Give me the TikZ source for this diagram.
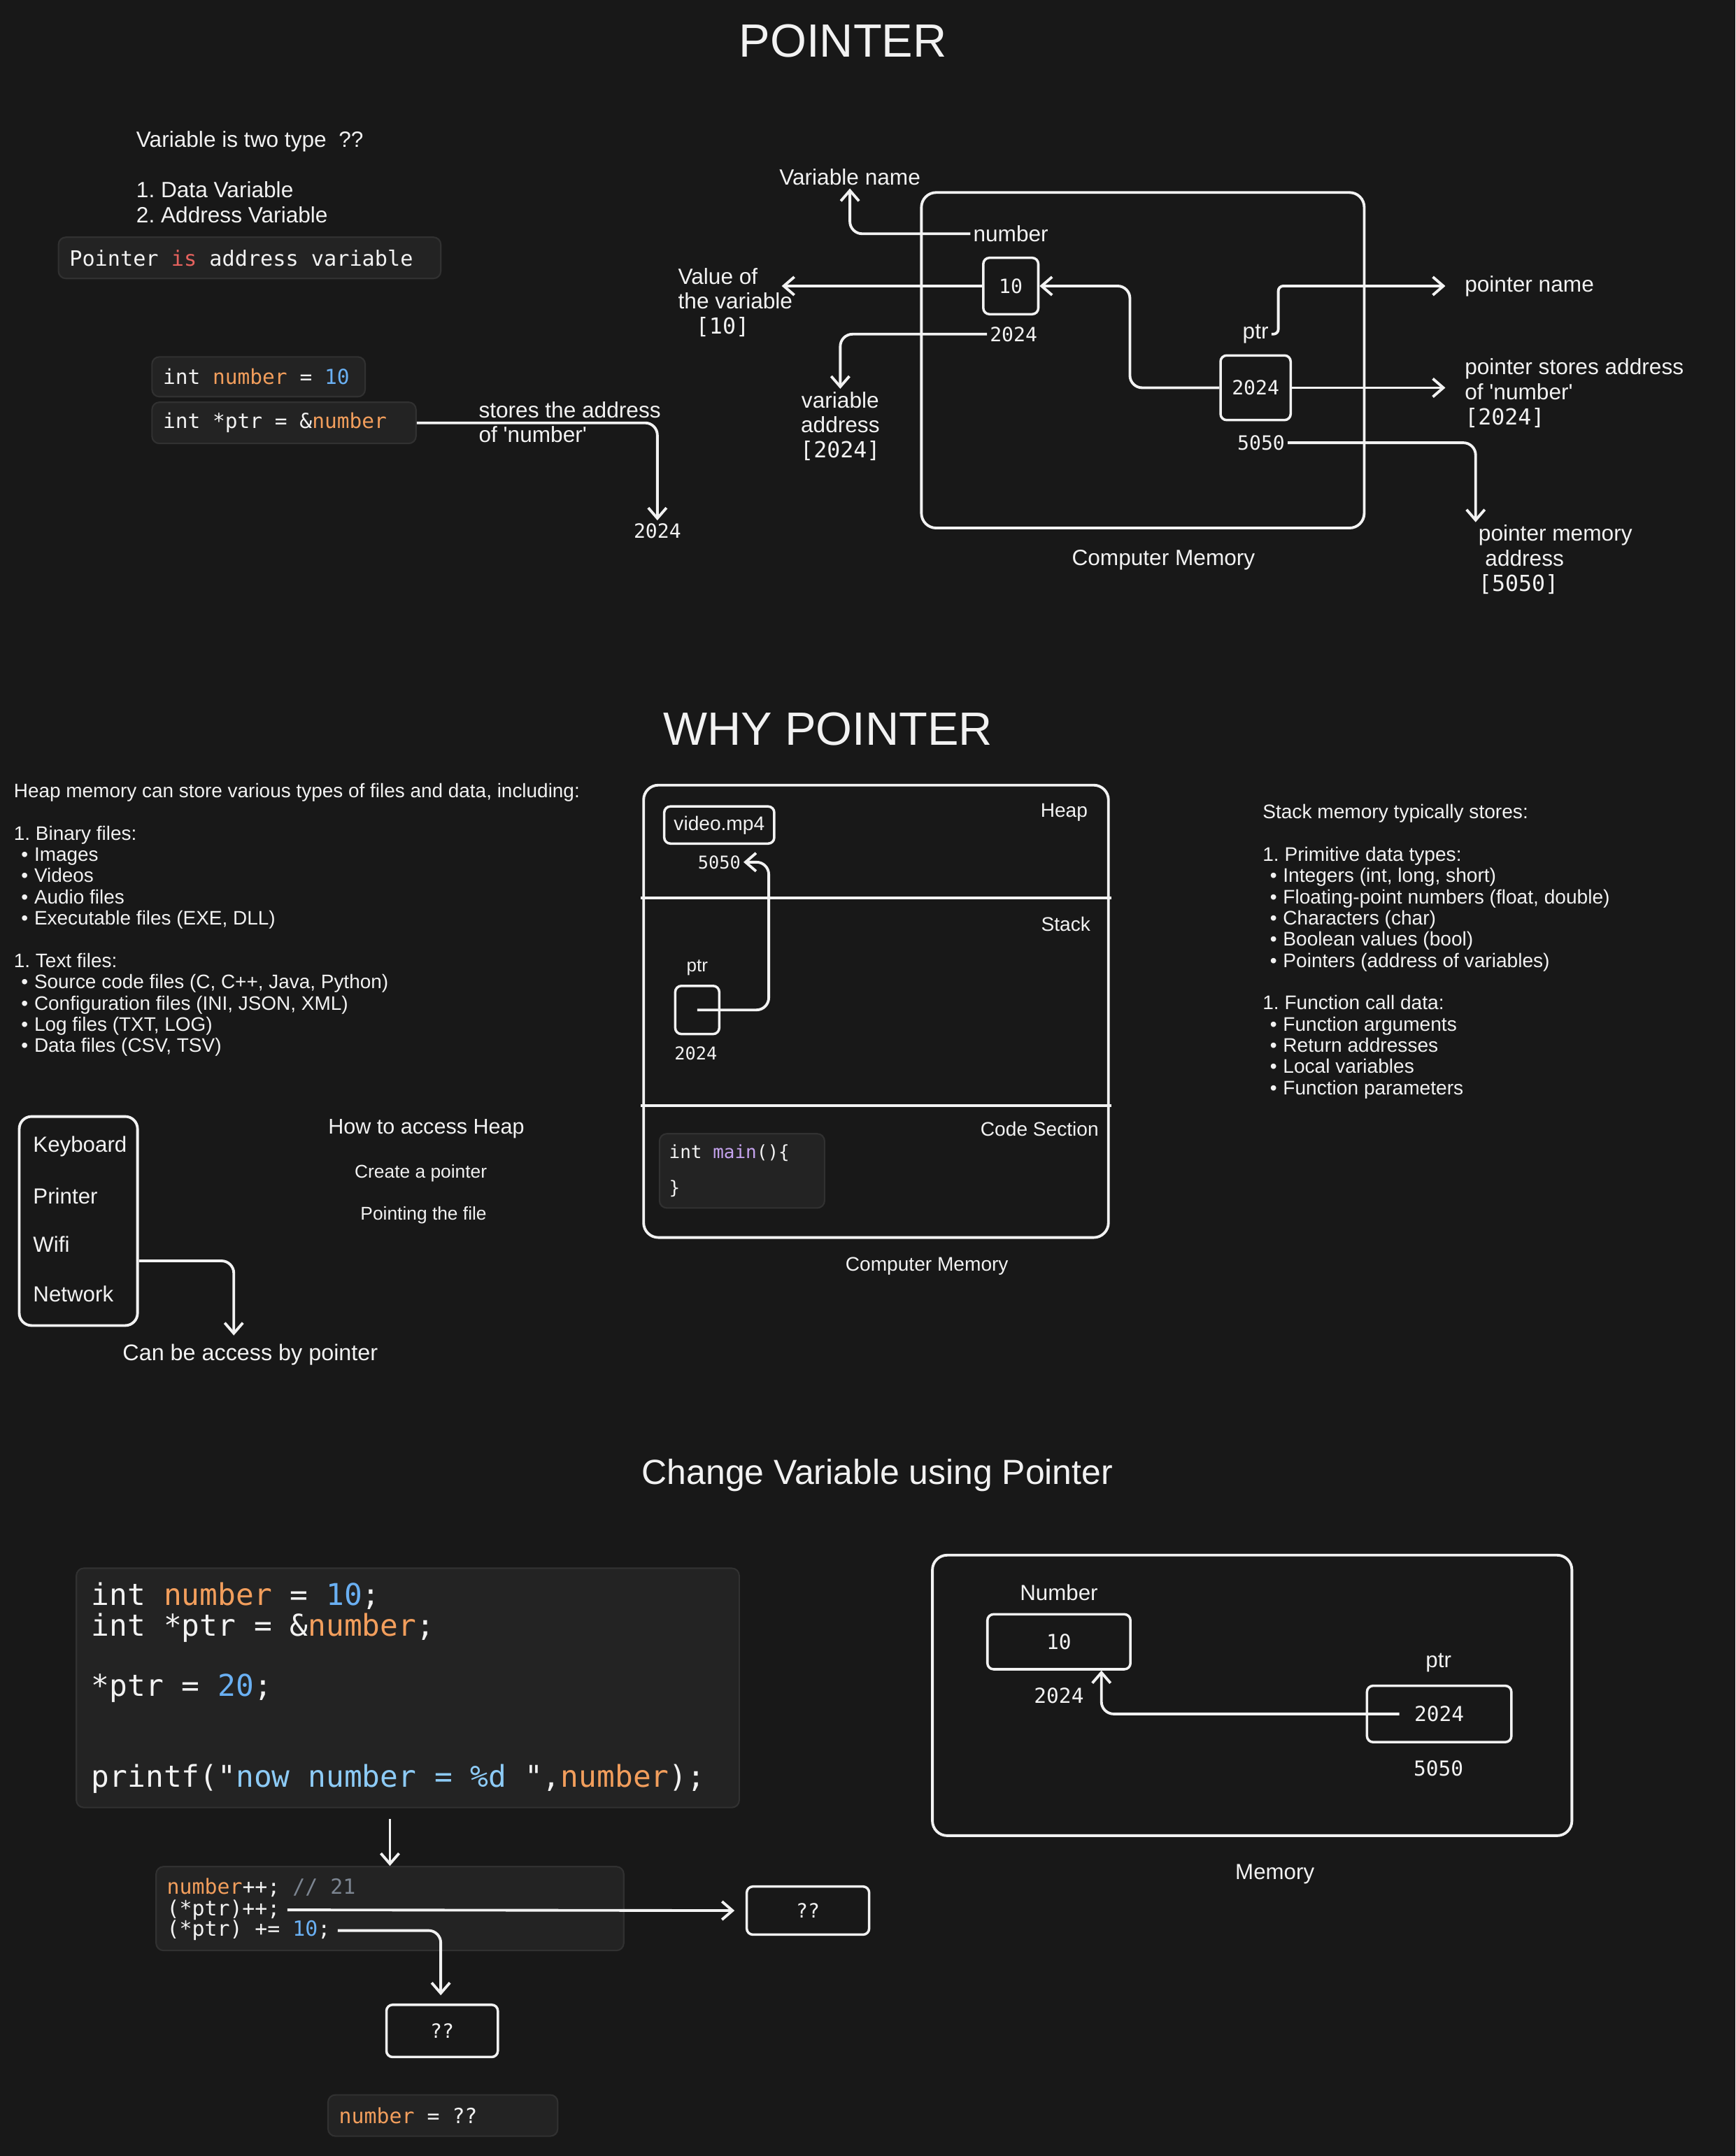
\documentclass[tikz,border=0pt]{standalone}
\usepackage{fontspec}
\setmainfont{Liberation Sans}
\setmonofont{DejaVu Sans Mono}
\usepackage{xcolor}
\usepackage{tikz}
\usetikzlibrary{arrows.meta,calc}

\definecolor{bg}{HTML}{181818}
\definecolor{ink}{HTML}{F2F2F2}
\definecolor{codebg}{HTML}{232323}
\definecolor{codeedge}{HTML}{313131}
\definecolor{hlvar}{HTML}{F29E5C}
\definecolor{hlnum}{HTML}{6AB0F3}
\definecolor{hlkey}{HTML}{E5625E}
\definecolor{hlfun}{HTML}{C5A3EE}
\definecolor{hlcom}{HTML}{7C8591}
\definecolor{hlstr}{HTML}{8DCBF6}

\newlength{\pxu}
\setlength{\pxu}{0.19667mm}
\newcommand{\fsz}[2]{\fontsize{#1}{#2}\selectfont}
\newcommand{\monosp}{\fontdimen2\font=0.602em\fontdimen3\font=0pt\fontdimen4\font=0pt}
\newcommand{\mfont}[2]{\ttfamily\fsz{#1}{#2}\monosp}
\newcommand{\hv}[1]{\textcolor{hlvar}{#1}}
\newcommand{\hn}[1]{\textcolor{hlnum}{#1}}
\newcommand{\tq}{\textquotesingle}
\newcommand{\blt}{\hspace*{3pt}\textbullet\hspace{2.5pt}}

\begin{document}
\begin{tikzpicture}[x=0.19667mm, y=-0.19667mm,
  lbl/.style={text=ink, font=\fsz{9}{10.2}, inner sep=1pt},
  mono/.style={text=ink, font=\mfont{8}{10}, inner sep=1pt},
  heading/.style={text=ink, font=\fsz{19}{22}, inner sep=0pt},
  sz/.style 2 args={minimum width=#1*\pxu, minimum height=#2*\pxu},
  cell/.style={draw=ink, line width=1pt, rounded corners=2.5pt, text=ink, font=\mfont{8}{10}, inner sep=0pt},
  membox/.style={draw=ink, line width=1.1pt, rounded corners=6pt, inner sep=0pt},
  divider/.style={draw=ink, line width=1.1pt},
  codebox/.style={fill=codebg, draw=codeedge, line width=0.6pt, rounded corners=3pt, text=ink, align=flush left, anchor=north west, inner ysep=0pt},
  conn/.style={draw=ink, line width=1.1pt, rounded corners=5pt, -{Straight Barb[length=1.5mm, width=2.6mm]}}]
  \fill[bg] (0,0) rectangle (1262,1568);

  \node[heading] (title) at (613,30) {POINTER};
  \node[lbl, anchor=west] (twotype) at (97,103) {Variable is two type\ \ ??};
  \node[lbl, anchor=west, align=left] (types) at (97,147) {1.\ Data Variable\\2.\ Address Variable};
  \node[codebox, text width=51.53mm, inner xsep=1.57mm, minimum height=5.9mm, font=\mfont{8.6}{10}] (ptrcode) at (42,172) {Pointer \textcolor{hlkey}{is} address variable};
  \node[codebox, text width=27.34mm, inner xsep=1.57mm, minimum height=5.7mm, font=\mfont{8.4}{10}] (intcode) at (110,259) {int \hv{number} = \hn{10}};
  \node[codebox, text width=34.61mm, inner xsep=1.57mm, minimum height=5.9mm, font=\mfont{8.4}{10}] (ptrinit) at (110,292) {int *ptr = \&\hv{number}};
  \node[lbl, anchor=west, align=left] (storesaddr) at (346,307) {stores the address\\of \tq number\tq};
  \node[mono] (res2024) at (478,386) {2024};
  \draw[conn] (ptrinit.east) -| (res2024.north);

  \node[membox, sz={322}{244}] (mem) at (831,262) {};
  \node[lbl] (memlbl) at (846,407) {Computer Memory};
  \node[lbl] (varname) at (618,129) {Variable name};
  \node[lbl] (numname) at (735,170) {number};
  \node[cell, sz={40}{41}] (val10) at (735,208) {10};
  \node[lbl, anchor=west, align=left] (valueof) at (491,220) {Value of\\the variable\\\hspace*{0.8em}\texttt{[10]}};
  \node[mono] (addr10) at (737,243) {2024};
  \node[lbl, align=center] (varaddr) at (611,310) {variable\\address\\\texttt{[2024]}};
  \node[lbl] (ptrlbl) at (913,243) {ptr};
  \node[cell, sz={51}{47}] (ptrcell) at (913,282) {2024};
  \node[mono] (ptraddr) at (917,322) {5050};
  \node[lbl, anchor=west] (ptrname) at (1063,208) {pointer name};
  \node[lbl, anchor=west, align=left] (ptrstores) at (1063,286) {pointer stores address\\of \tq number\tq\\\texttt{[2024]}};
  \node[lbl, anchor=west, align=left] (ptrmem) at (1073,407) {pointer memory\\\hspace*{0.3em}address\\\texttt{[5050]}};
  \draw[conn] (numname.west) -| (varname.south);
  \draw[conn] (val10.west) -- ($(val10.west -| valueof.east)+(-10,0)$);
  \draw[conn] (addr10.west) -| (varaddr.north);
  \draw[conn] (ptrcell.west) -- ++(-65,0) |- (val10.east);
  \draw[conn, rounded corners=2pt] (ptrlbl.east) -- ++(5,0) |- ($(ptrname.west)+(-12,0)$);
  \draw[conn] (ptrcell.east) -- ($(ptrcell.east -| ptrstores.west)+(-12,0)$);
  \draw[conn] (ptraddr.east) -| (ptrmem.north west);

  \node[heading] (whytitle) at (602,530) {WHY POINTER};
  \node[lbl, anchor=west, align=left, font=\fsz{7.95}{8.64}] (heaplist) at (8,669) {Heap memory can store various types of files and data, including:\\[8.64pt]
    1.\ Binary files:\\\blt Images\\\blt Videos\\\blt Audio files\\\blt Executable files (EXE, DLL)\\[8.64pt]
    1.\ Text files:\\\blt Source code files (C, C++, Java, Python)\\\blt Configuration files (INI, JSON, XML)\\\blt Log files (TXT, LOG)\\\blt Data files (CSV, TSV)};
  \node[membox, sz={338}{329}] (mem2) at (637,735.5) {};
  \draw[divider] (466,653) -- (808,653);
  \draw[divider] (466,804) -- (808,804);
  \node[lbl, anchor=east, font=\fsz{8}{10}] (heaplbl) at (793,591) {Heap};
  \node[lbl, anchor=east, font=\fsz{8}{10}] (stacklbl) at (795,672) {Stack};
  \node[lbl, anchor=east, font=\fsz{8}{10}] (codelbl) at (801,821) {Code Section};
  \node[cell, sz={80}{27}, font=\fsz{8}{10}] (video) at (523,600) {video.mp4};
  \node[mono, font=\mfont{7.2}{9}] (h5050) at (523,627) {5050};
  \node[lbl, font=\fsz{7.4}{9}] (sptrlbl) at (507,704) {ptr};
  \node[cell, sz={32}{35}] (sptr) at (507,734.5) {};
  \node[mono, font=\mfont{7.2}{9}] (s2024) at (506,766) {2024};
  \draw[conn] (sptr.center) -- ++(52,0) |- (h5050.east);
  \node[codebox, text width=20.85mm, inner xsep=1.38mm, minimum height=10.62mm, font=\mfont{7.4}{14.5}] (mainfn) at (479,824) {int \textcolor{hlfun}{main}()\{\\\}};
  \node[lbl, font=\fsz{8}{10}] (mem2lbl) at (674,921) {Computer Memory};
  \node[lbl, anchor=west, align=left, font=\fsz{8}{8.64}] (stacklist) at (916,692) {Stack memory typically stores:\\[8.64pt]
    1.\ Primitive data types:\\\blt Integers (int, long, short)\\\blt Floating-point numbers (float, double)\\\blt Characters (char)\\\blt Boolean values (bool)\\\blt Pointers (address of variables)\\[8.64pt]
    1.\ Function call data:\\\blt Function arguments\\\blt Return addresses\\\blt Local variables\\\blt Function parameters};

  \node[membox, rounded corners=5pt, sz={86}{152}] (devbox) at (57,888) {};
  \node[lbl, anchor=west, font=\fsz{8.9}{11}] (kbd) at (22,834) {Keyboard};
  \node[lbl, anchor=west, font=\fsz{8.9}{11}] (printer) at (22,870) {Printer};
  \node[lbl, anchor=west, font=\fsz{8.9}{11}] (wifi) at (22,905) {Wifi};
  \node[lbl, anchor=west, font=\fsz{8.9}{11}] (network) at (22,941) {Network};
  \node[lbl, font=\fsz{9.2}{11}] (canacc) at (182,985) {Can be access by pointer};
  \draw[conn] (devbox.east |- 0,917) -| ($(canacc.north)+(-12,-4)$);
  \node[lbl, font=\fsz{8.7}{10}] (howto) at (310,821) {How to access Heap};
  \node[lbl, font=\fsz{7.5}{9}] (mkptr) at (306,853) {Create a pointer};
  \node[lbl, font=\fsz{7.5}{9}] (pointfile) at (308,884) {Pointing the file};

  \node[text=ink, font=\fsz{14.2}{16}] (chtitle) at (638,1073) {Change Variable using Pointer};
  \node[codebox, text width=90.47mm, inner xsep=2.16mm, minimum height=34.22mm, font=\mfont{12.2}{12.3}] (bigcode) at (55,1140) {int \hv{number} = \hn{10};\\int *ptr = \&\hv{number};\\[12.3pt]*ptr = \hn{20};\\[24.6pt]printf("\textcolor{hlstr}{now number = \%d }",\hv{number});};
  \node[codebox, sz={340}{61}] (incbg) at (113,1357) {};
  \node[mono, anchor=west, font=\mfont{8.5}{9}, inner sep=0pt] (inc1) at (121,1373) {\hv{number}++; \textcolor{hlcom}{// 21}};
  \node[mono, anchor=west, font=\mfont{8.5}{9}, inner sep=0pt] (inc2) at (121,1389) {(*ptr)++;};
  \node[mono, anchor=west, font=\mfont{8.5}{9}, inner sep=0pt] (inc3) at (121,1404) {(*ptr) += \hn{10};};
  \node[cell, sz={89}{35}] (qq1) at (587.5,1389.5) {??};
  \node[cell, sz={81}{38}] (qq2) at (321.5,1477) {??};
  \node[codebox, text width=29.70mm, inner xsep=1.57mm, minimum height=5.9mm, font=\mfont{8.5}{10}] (finalnum) at (238,1523) {\hv{number} = ??};
  \draw[conn] (bigcode.south -| incbg.north) ++(0,8) -- (incbg.north);
  \draw[conn] (inc2.east) ++(5,0) -- ($(qq1.west)+(-8,0)$);
  \draw[conn] (inc3.east) ++(5,0) -| ($(qq2.north)+(-1,-6)$);

  \node[membox, sz={465}{204}] (mem3) at (910.5,1233) {};
  \node[lbl, font=\fsz{8.9}{11}] (mem3lbl) at (927,1363) {Memory};
  \node[lbl, font=\fsz{8.9}{11}] (numlbl) at (770,1158) {Number};
  \node[cell, sz={104}{40}, font=\mfont{8.4}{10}] (mnum) at (770,1194) {10};
  \node[mono, font=\mfont{8.4}{10}] (mnumaddr) at (770,1233) {2024};
  \node[lbl, font=\fsz{8.9}{11}] (mptrlbl) at (1046,1209) {ptr};
  \node[cell, sz={105}{41}, font=\mfont{8.4}{10}] (mptr) at (1046.5,1246.5) {2024};
  \node[mono, font=\mfont{8.4}{10}] (mptraddr) at (1046,1286) {5050};
  \draw[conn] (mptr.center) ++(-29,0) -| ($(mnum.south east)+(-22,0)$);
\end{tikzpicture}
\end{document}
